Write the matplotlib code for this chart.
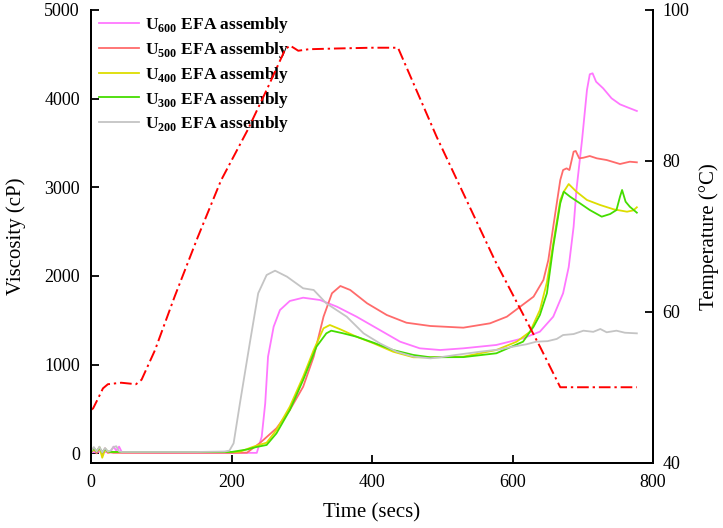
import matplotlib
matplotlib.use("Agg")
import matplotlib.pyplot as plt

plt.rcParams['font.family'] = ['Liberation Serif', 'DejaVu Serif']
plt.rcParams['mathtext.fontset'] = 'custom'
plt.rcParams['mathtext.rm'] = 'Liberation Serif'
plt.rcParams['mathtext.bf'] = 'Liberation Serif:bold'

# ---- data ----
t_u200 = [0, 4, 8, 12, 16, 20, 24, 28, 32, 36, 40, 44, 100, 150, 190, 197, 203, 212, 226, 238, 250, 262, 279,
          302, 317, 335, 364, 388, 411, 435, 459, 483, 497, 520, 554, 580, 601, 620, 634, 650, 663, 672, 687,
          701, 715, 725, 734, 748, 760, 777]
v_u200 = [20, 70, 20, 75, 10, 60, 20, 30, 70, 80, 20, 15, 15, 15, 20, 30, 113, 564, 1241, 1805, 2011, 2060, 1992,
          1861, 1842, 1691, 1541, 1353, 1241, 1146, 1090, 1071, 1083, 1110, 1146, 1170, 1203, 1230, 1259, 1265,
          1290, 1334, 1345, 1383, 1370, 1402, 1365, 1383, 1360, 1353]

t_u600 = [0, 4, 8, 12, 16, 20, 24, 28, 32, 36, 40, 44, 100, 200, 236, 243, 248, 252, 260, 269, 283, 302, 326,
          350, 378, 411, 440, 468, 497, 530, 577, 615, 639, 658, 672, 680, 687, 691, 699, 706, 710, 714, 719,
          729, 741, 753, 765, 777]
v_u600 = [10, 15, 10, 20, 10, 15, 10, 20, 75, 30, 75, 10, 5, 5, 5, 187, 564, 1090, 1428, 1616, 1718, 1755, 1729,
          1654, 1541, 1391, 1259, 1184, 1165, 1184, 1222, 1297, 1372, 1541, 1805, 2100, 2556, 2970, 3534, 4098,
          4275, 4286, 4191, 4117, 4004, 3936, 3898, 3861]

t_u500 = [0, 4, 8, 12, 16, 20, 24, 28, 32, 100, 200, 222, 241, 264, 283, 302, 317, 331, 343, 355, 369, 393, 421,
          449, 483, 530, 568, 592, 611, 630, 644, 651, 658, 668, 672, 677, 681, 687, 690, 695, 701, 710, 720,
          734, 753, 767, 777]
v_u500 = [10, 50, 0, 60, -10, 55, 5, 10, 5, 5, 5, 7, 120, 282, 488, 751, 1090, 1541, 1805, 1887, 1842, 1692, 1560,
          1473, 1436, 1417, 1466, 1541, 1654, 1767, 1955, 2180, 2556, 3082, 3195, 3214, 3195, 3402, 3410, 3327,
          3334, 3353, 3327, 3308, 3263, 3289, 3282]

t_u400 = [0, 4, 8, 12, 16, 20, 24, 28, 100, 200, 212, 231, 250, 264, 283, 302, 317, 331, 340, 355, 378, 402,
          430, 459, 483, 530, 577, 606, 625, 639, 649, 658, 668, 673, 680, 691, 706, 725, 744, 763, 772, 777]
v_u400 = [15, 40, 20, 70, -50, 40, 20, 15, 15, 15, 18, 74, 120, 263, 526, 864, 1165, 1410, 1447, 1398, 1315,
          1241, 1146, 1083, 1083, 1090, 1165, 1259, 1372, 1616, 1930, 2368, 2857, 2951, 3037, 2951, 2857, 2800,
          2752, 2725, 2740, 2775]

t_u300 = [0, 4, 8, 12, 16, 20, 24, 28, 100, 200, 222, 235, 250, 264, 283, 302, 321, 335, 342, 359, 378, 402,
          430, 459, 483, 530, 577, 615, 630, 639, 649, 658, 668, 673, 682, 696, 710, 727, 739, 748, 753, 756,
          761, 767, 777]
v_u300 = [15, 60, 20, 65, 10, 50, 20, 15, 15, 15, 43, 70, 94, 225, 488, 827, 1203, 1353, 1383, 1353, 1315, 1248,
          1165, 1109, 1083, 1085, 1128, 1259, 1428, 1560, 1805, 2330, 2820, 2951, 2894, 2820, 2744, 2669, 2699,
          2744, 2894, 2970, 2838, 2781, 2714]

t_temp = [0, 3, 10, 17, 24, 43, 64, 72, 91, 119, 152, 185, 223, 252, 276, 283, 290, 295, 310, 350, 400, 437,
          492, 575, 639, 668, 680, 720, 777]
v_temp = [47.0, 47.2, 48.5, 49.85, 50.4, 50.6, 50.4, 51.0, 54.9, 62.0, 69.9, 77.4, 84.1, 89.8, 94.7, 95.3, 94.9,
          94.6, 94.8, 94.9, 95.0, 95.0, 83.2, 66.8, 55.4, 50.0, 50.0, 50.0, 50.0]

series = [
    ("U$_{\\mathbf{600}}$", t_u600, v_u600, "#FF77FF"),
    ("U$_{\\mathbf{500}}$", t_u500, v_u500, "#FF6B6B"),
    ("U$_{\\mathbf{400}}$", t_u400, v_u400, "#DDDD00"),
    ("U$_{\\mathbf{300}}$", t_u300, v_u300, "#44DD00"),
    ("U$_{\\mathbf{200}}$", t_u200, v_u200, "#C4C4C4"),
]

fig = plt.figure(figsize=(7.23, 5.28), dpi=100)
ax = fig.add_axes([91/723, 1 - 462.7/528, (653-91)/723, (462.7-10)/528])
ax2 = ax.twinx()

for lab, t, v, c in series:
    ax.plot(t, v, color=c, lw=1.3, label=lab + " EFA assembly")

ax2.plot(t_temp, v_temp, color="#FF0000", lw=1.4, linestyle=(0, (6, 2, 1.2, 2)))

ax.set_xlim(0, 800)
ax.set_ylim(-106, 5000)
ax2.set_ylim(40, 100)
ax.set_xticks([0, 200, 400, 600, 800])
ax.set_yticks([0, 1000, 2000, 3000, 4000, 5000])
ax2.set_yticks([40, 60, 80, 100])

for a in (ax, ax2):
    a.tick_params(direction='in', length=6, width=1.3, labelsize=13)
    for s in a.spines.values():
        s.set_linewidth(1.4)
    a.spines['top'].set_visible(False)
ax.tick_params(axis='x', pad=8)
ax.tick_params(axis='y', pad=8)
ax2.tick_params(axis='y', pad=7)

ax.set_xlabel("Time (secs)", fontsize=15, labelpad=9)
ax.set_ylabel("Viscosity (cP)", fontsize=15, labelpad=13)
ax2.set_ylabel("Temperature (\u00b0C)", fontsize=15, labelpad=7)

leg = ax.legend(loc='upper left', bbox_to_anchor=(-0.004, 1.012), frameon=False,
                prop={'weight': 'bold', 'size': 12.5}, handlelength=2.3, handletextpad=0.35,
                labelspacing=0.28, borderaxespad=0.2)

fig.savefig("out.png", dpi=100)
